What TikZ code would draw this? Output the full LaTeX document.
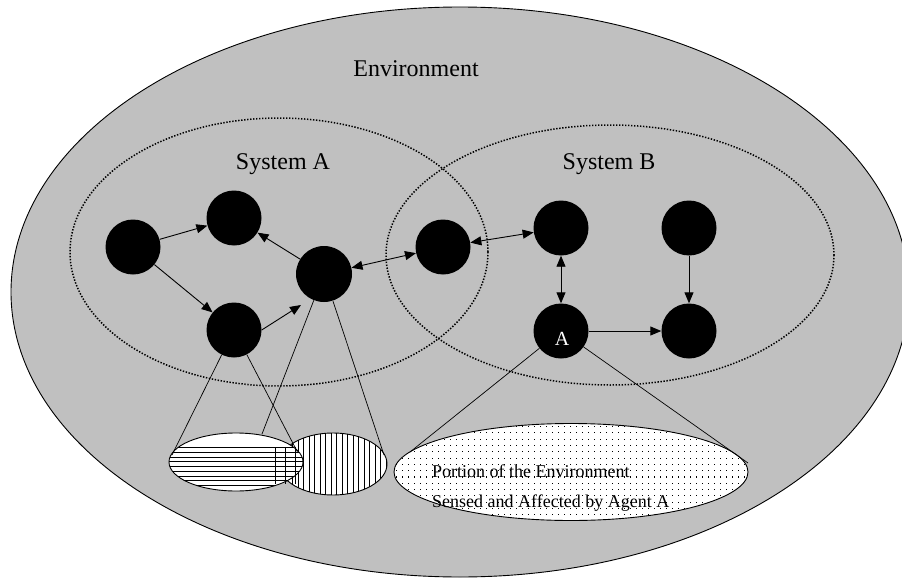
\documentclass[tikz,border=0pt]{standalone}
\usepackage{fontspec}
\setmainfont{Liberation Serif}
\usetikzlibrary{arrows.meta}
\definecolor{envgray}{RGB}{192,192,192}
\begin{document}
\begin{tikzpicture}[x=1pt,y=-1pt,
  agent/.style={circle,fill=black,minimum size=55pt,inner sep=0pt},
  link/.style={line width=0.9pt,-{Triangle[length=11pt,width=9pt]}},
  blink/.style={line width=0.9pt,{Triangle[length=11pt,width=9pt]}-{Triangle[length=11pt,width=9pt]}},
  sysline/.style={line width=1.5pt,dash pattern=on 1.4pt off 1.6pt},
  cone/.style={line width=0.7pt},
  hatch/.style={line width=0.75pt},
  rim/.style={line width=0.9pt},
  biglbl/.style={font=\fontsize{24}{28}\selectfont},
  smalllbl/.style={font=\fontsize{18}{20}\selectfont,anchor=base west,inner sep=0pt}]
\useasboundingbox (0,0) rectangle (902,578);
\fill[white] (0,0) rectangle (902,578);
% environment
\draw[rim,fill=envgray] (460,292) ellipse [x radius=449, y radius=285];
\node[biglbl] (env) at (416,69) {Environment};
% systems
\draw[sysline] (279,252) ellipse [x radius=209, y radius=134];
\draw[sysline] (610,255) ellipse [x radius=224, y radius=130];
\node[biglbl] (sysA) at (283,164) {System A};
\node[biglbl] (sysB) at (609,164) {System B};
% vertical hatched ellipse
\begin{scope}
  \clip (333,464) ellipse [x radius=54, y radius=31];
  \fill[white] (278,432) rectangle (388,496);
  \foreach \x in {281.5,287,...,386} \draw[hatch] (\x,430) -- (\x,500);
\end{scope}
\draw[rim] (333,464) ellipse [x radius=54, y radius=31];
% horizontal hatched ellipse
\begin{scope}
  \clip (236,462) ellipse [x radius=67, y radius=29];
  \fill[white] (168,432) rectangle (304,492);
  \foreach \y in {447.5,452.25,...,486} \draw[hatch] (165,\y) -- (310,\y);
\end{scope}
\draw[hatch] (275,447) -- (275,484);
\draw[hatch] (285,447) -- (285,484);
\draw[hatch] (295,447) -- (295,484);
\draw[rim] (236,462) ellipse [x radius=67, y radius=29];
% dotted ellipse
\begin{scope}
  \clip (571,472) ellipse [x radius=177, y radius=48.5];
  \fill[white] (393,423) rectangle (749,522);
  \foreach \x in {396,402,...,750} \foreach \y in {426,432.3,...,522} \fill (\x,\y) rectangle ++(1.1,1.1);
\end{scope}
\draw[rim] (571,472) ellipse [x radius=177, y radius=48.5];
\node[smalllbl] (p1) at (432,477) {Portion of the Environment};
\node[smalllbl] (p2) at (432,507) {Sensed and Affected by Agent A};
% agents
\node[agent] (n1) at (133,247) {};
\node[agent] (n2) at (234,218) {};
\node[agent,minimum size=56pt] (n3) at (324,274) {};
\node[agent] (n4) at (234,330) {};
\node[agent] (n5) at (443,247) {};
\node[agent] (n6) at (561,228) {};
\node[agent] (n7) at (689,228) {};
\node[agent] (n8) at (561,331) {};
\node[agent] (n9) at (689,331) {};
\node[font=\fontsize{20}{22}\selectfont,text=white,anchor=base,inner sep=0pt] (labA) at (562,345) {A};
% arrows
\coordinate (t43) at (301,305);
\draw[link] (n1) -- (n2);
\draw[link] (n1) -- (n4);
\draw[link] (n4.east) -- (t43);
\draw[link] (n3) -- (n2);
\draw[blink] (n3) -- (n5);
\draw[blink] (n5) -- (n6);
\draw[blink] (n6) -- (n8);
\draw[link] (n7) -- (n9);
\draw[link] (n8) -- (n9);
% cones
\coordinate (c41) at (172,455);
\coordinate (c42) at (298,453);
\coordinate (c31) at (262,434);
\coordinate (c32) at (384,455);
\coordinate (cA1) at (410,452);
\coordinate (cA2) at (748,463);
\draw[cone] (n4) -- (c41);
\draw[cone] (n4) -- (c42);
\draw[cone] (n3) -- (c31);
\draw[cone] (n3) -- (c32);
\draw[cone] (n8) -- (cA1);
\draw[cone] (n8) -- (cA2);
\end{tikzpicture}
\end{document}
